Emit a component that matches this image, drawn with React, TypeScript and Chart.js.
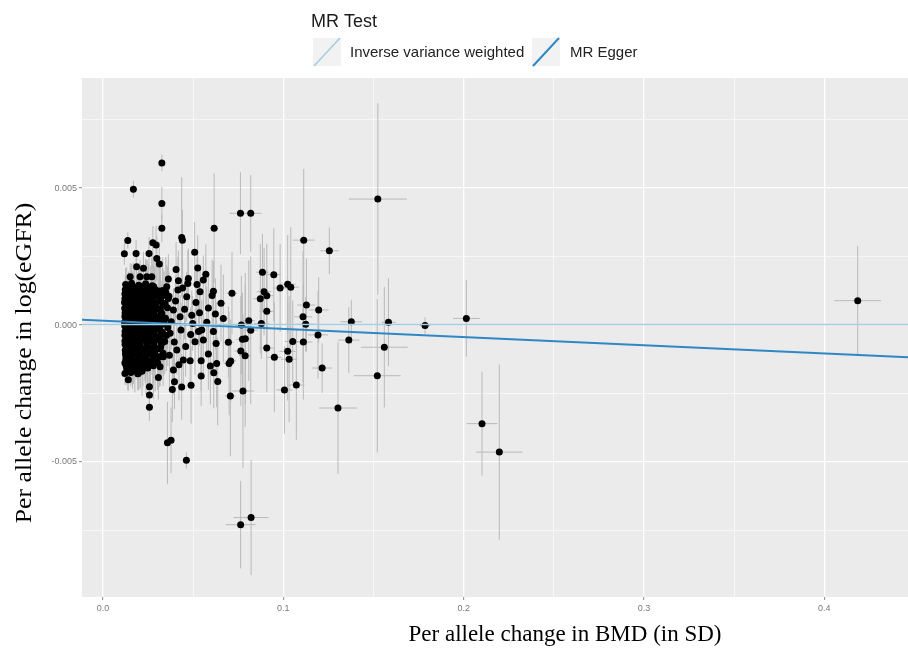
import React, { useEffect, useRef } from "react";
import { Chart, registerables } from "chart.js";
Chart.register(...registerables);

// ---- Dense cluster of SNPs (per allele effect on BMD, on log(eGFR), and their SEs)
const clusterBmd = [
  0.0125, 0.0158, 0.0197, 0.0236, 0.0272,
  0.0123, 0.0141, 0.0176, 0.0214, 0.0251, 0.0289, 0.0331,
  0.0121, 0.0153, 0.0188, 0.0225, 0.0262, 0.0305, 0.0348,
  0.0121, 0.0137, 0.0169, 0.0203, 0.0241, 0.0279, 0.0318, 0.0362,
  0.0119, 0.0149, 0.0181, 0.0216, 0.0254, 0.0293, 0.0339,
  0.0120, 0.0133, 0.0163, 0.0196, 0.0232, 0.0268, 0.0311, 0.0357,
  0.0122, 0.0146, 0.0178, 0.0211, 0.0247, 0.0284, 0.0326,
  0.0121, 0.0134, 0.0161, 0.0193, 0.0228, 0.0265, 0.0301, 0.0346,
  0.0119, 0.0151, 0.0184, 0.0219, 0.0257, 0.0296, 0.0338,
  0.0120, 0.0136, 0.0167, 0.0199, 0.0236, 0.0273, 0.0314, 0.0359,
  0.0122, 0.0148, 0.0179, 0.0213, 0.0249, 0.0287, 0.0329,
  0.0121, 0.0135, 0.0164, 0.0197, 0.0231, 0.0267, 0.0306, 0.0351,
  0.0121, 0.0152, 0.0186, 0.0222, 0.0259, 0.0298, 0.0342,
  0.0122, 0.0139, 0.0171, 0.0205, 0.0243, 0.0281, 0.0323,
  0.0123, 0.0156, 0.0191, 0.0227, 0.0266, 0.0309,
  0.0124, 0.0142, 0.0175, 0.0209, 0.0246, 0.0288, 0.0333,
  0.0126, 0.0161, 0.0195, 0.0233, 0.0276,
  0.0121, 0.0147, 0.0183, 0.0221, 0.0262, 0.0302,
  0.0131, 0.0168, 0.0207, 0.0248,
  0.0121, 0.0154, 0.0192,
];
const clusterEgfr = [
  0.00148, 0.00153, 0.00145, 0.00151, 0.00143,
  0.00129, 0.00135, 0.00131, 0.00127, 0.00134, 0.0013, 0.00126,
  0.00113, 0.00118, 0.00112, 0.00117, 0.00114, 0.0011, 0.00119,
  0.00096, 0.001, 0.00094, 0.00099, 0.00095, 0.00101, 0.00093, 0.00097,
  0.00082, 0.00077, 0.00081, 0.00078, 0.00083, 0.00079, 0.00076,
  0.00061, 0.00065, 0.0006, 0.00064, 0.00062, 0.00066, 0.00059, 0.00063,
  0.00044, 0.00048, 0.00043, 0.00047, 0.00045, 0.00049, 0.00042,
  0.00031, 0.00027, 0.0003, 0.00026, 0.00032, 0.00028, 0.0003, 0.00025,
  0.0001, 0.00014, 0.00011, 0.00013, 0.00009, 0.00015, 0.00011,
  -0.00003, -0.00007, -0.00004, -0.00008, -0.00002, -0.00006, -0.00005, -0.00009,
  -0.00024, -0.0002, -0.00025, -0.00021, -0.00023, -0.00019, -0.00026,
  -0.00037, -0.00041, -0.00038, -0.00042, -0.00036, -0.0004, -0.00043, -0.00038,
  -0.00058, -0.00054, -0.00059, -0.00055, -0.00057, -0.00053, -0.0006,
  -0.00071, -0.00075, -0.0007, -0.00076, -0.00072, -0.00074, -0.00069,
  -0.00092, -0.00088, -0.00093, -0.00089, -0.00091, -0.00087,
  -0.00105, -0.00109, -0.00104, -0.0011, -0.00106, -0.00108, -0.00103,
  -0.00126, -0.00122, -0.00127, -0.00123, -0.00125,
  -0.00139, -0.00143, -0.00138, -0.00144, -0.0014, -0.00137,
  -0.0016, -0.00156, -0.00161, -0.00157,
  -0.00177, -0.00173, -0.00178,
];
const clusterBmdSe = [
  0.0009, 0.0010, 0.0011, 0.0012, 0.0012,
  0.0009, 0.0010, 0.0010, 0.0011, 0.0012, 0.0012, 0.0013,
  0.0009, 0.0009, 0.0011, 0.0011, 0.0012, 0.0013, 0.0013,
  0.0008, 0.0010, 0.0010, 0.0011, 0.0011, 0.0012, 0.0013, 0.0014,
  0.0009, 0.0010, 0.0010, 0.0011, 0.0012, 0.0012, 0.0013,
  0.0008, 0.0009, 0.0010, 0.0011, 0.0011, 0.0012, 0.0013, 0.0014,
  0.0009, 0.0010, 0.0011, 0.0011, 0.0012, 0.0012, 0.0013,
  0.0008, 0.0009, 0.0010, 0.0010, 0.0011, 0.0012, 0.0012, 0.0013,
  0.0009, 0.0010, 0.0010, 0.0011, 0.0012, 0.0013, 0.0013,
  0.0008, 0.0009, 0.0010, 0.0011, 0.0011, 0.0012, 0.0013, 0.0014,
  0.0009, 0.0010, 0.0010, 0.0011, 0.0012, 0.0012, 0.0013,
  0.0008, 0.0009, 0.0010, 0.0011, 0.0011, 0.0012, 0.0012, 0.0013,
  0.0009, 0.0010, 0.0011, 0.0011, 0.0012, 0.0013, 0.0013,
  0.0008, 0.0009, 0.0010, 0.0011, 0.0012, 0.0012, 0.0013,
  0.0009, 0.0010, 0.0010, 0.0011, 0.0012, 0.0013,
  0.0008, 0.0009, 0.0010, 0.0011, 0.0012, 0.0012, 0.0013,
  0.0009, 0.0010, 0.0011, 0.0011, 0.0012,
  0.0009, 0.0009, 0.0010, 0.0011, 0.0012, 0.0013,
  0.0009, 0.0010, 0.0011, 0.0012,
  0.0009, 0.0010, 0.0011,
];
const clusterEgfrSe = [
  0.0006, 0.0007, 0.0008, 0.0009, 0.0010,
  0.0005, 0.0006, 0.0007, 0.0008, 0.0009, 0.0010, 0.0012,
  0.0005, 0.0006, 0.0008, 0.0007, 0.0010, 0.0011, 0.0013,
  0.0004, 0.0006, 0.0006, 0.0008, 0.0009, 0.0009, 0.0012, 0.0014,
  0.0005, 0.0005, 0.0007, 0.0008, 0.0008, 0.0010, 0.0012,
  0.0004, 0.0005, 0.0006, 0.0007, 0.0009, 0.0010, 0.0011, 0.0015,
  0.0005, 0.0006, 0.0007, 0.0007, 0.0009, 0.0011, 0.0012,
  0.0004, 0.0005, 0.0006, 0.0008, 0.0008, 0.0010, 0.0011, 0.0013,
  0.0005, 0.0006, 0.0007, 0.0008, 0.0009, 0.0010, 0.0012,
  0.0004, 0.0005, 0.0006, 0.0007, 0.0008, 0.0009, 0.0011, 0.0014,
  0.0005, 0.0006, 0.0007, 0.0008, 0.0009, 0.0011, 0.0012,
  0.0004, 0.0005, 0.0006, 0.0007, 0.0008, 0.0010, 0.0011, 0.0013,
  0.0005, 0.0006, 0.0007, 0.0008, 0.0009, 0.0010, 0.0012,
  0.0004, 0.0005, 0.0006, 0.0008, 0.0009, 0.0010, 0.0012,
  0.0005, 0.0006, 0.0007, 0.0008, 0.0009, 0.0011,
  0.0004, 0.0005, 0.0006, 0.0007, 0.0009, 0.0010, 0.0012,
  0.0005, 0.0006, 0.0007, 0.0008, 0.0010,
  0.0004, 0.0005, 0.0006, 0.0008, 0.0009, 0.0010,
  0.0005, 0.0006, 0.0007, 0.0008,
  0.0004, 0.0005, 0.0006,
];

// ---- More SNPs inside the dense cluster
const coreBmd = [
  0.0131, 0.0167, 0.0206, 0.0244, 0.0281,
  0.0128, 0.0163, 0.0199, 0.0238, 0.0276, 0.0312,
  0.0134, 0.0171, 0.0209, 0.0247, 0.0286, 0.0329,
  0.0129, 0.0165, 0.0201, 0.0239, 0.0276, 0.0315,
  0.0135, 0.0172, 0.0208, 0.0245, 0.0288, 0.0332,
  0.0128, 0.0162, 0.0197, 0.0236, 0.0274, 0.0318,
  0.0132, 0.0169, 0.0204, 0.0242, 0.0281, 0.0323,
  0.0129, 0.0166, 0.0202, 0.0239, 0.0278, 0.0319,
  0.0133, 0.0168, 0.0207, 0.0246, 0.0285, 0.0327,
  0.0128, 0.0163, 0.0197, 0.0233, 0.0271, 0.0311,
  0.0131, 0.0167, 0.0204, 0.0242, 0.0282, 0.0324,
  0.0128, 0.0162, 0.0198, 0.0235, 0.0274, 0.0317,
  0.0133, 0.0168, 0.0205, 0.0243, 0.0283, 0.0327,
  0.0129, 0.0164, 0.0201, 0.0239, 0.0279, 0.0319,
  0.0131, 0.0167, 0.0206, 0.0244, 0.0284,
  0.0127, 0.0161, 0.0198, 0.0236, 0.0276, 0.0314,
  0.0133, 0.0169, 0.0207, 0.0247, 0.0289,
  0.0128, 0.0163, 0.0199, 0.0238, 0.0279,
  0.0137, 0.0176, 0.0216,
];
const coreEgfr = [
  0.00141, 0.00139, 0.00142, 0.00138, 0.0014,
  0.00122, 0.00124, 0.00121, 0.00125, 0.00122, 0.00124,
  0.00105, 0.00107, 0.00104, 0.00108, 0.00105, 0.00107,
  0.0009, 0.00088, 0.00091, 0.00087, 0.0009, 0.00088,
  0.00071, 0.00073, 0.0007, 0.00074, 0.00071, 0.00073,
  0.00054, 0.00056, 0.00053, 0.00057, 0.00054, 0.00056,
  0.00037, 0.00039, 0.00036, 0.0004, 0.00037, 0.00039,
  0.0002, 0.00022, 0.00019, 0.00023, 0.0002, 0.00022,
  0.00005, 0.00003, 0.00006, 0.00002, 0.00005, 0.00003,
  -0.00012, -0.00014, -0.00011, -0.00015, -0.00012, -0.00014,
  -0.00031, -0.00029, -0.00032, -0.00028, -0.00031, -0.00029,
  -0.00046, -0.00048, -0.00045, -0.00049, -0.00046, -0.00048,
  -0.00065, -0.00063, -0.00066, -0.00062, -0.00065, -0.00063,
  -0.0008, -0.00082, -0.00079, -0.00083, -0.0008, -0.00082,
  -0.00099, -0.00097, -0.001, -0.00096, -0.00099,
  -0.00114, -0.00116, -0.00113, -0.00117, -0.00114, -0.00116,
  -0.00133, -0.00131, -0.00134, -0.0013, -0.00133,
  -0.00149, -0.00151, -0.00148, -0.00152, -0.00149,
  -0.00168, -0.00166, -0.00169,
];
const coreBmdSe = [
  0.0009, 0.0010, 0.0011, 0.0011, 0.0012,
  0.0009, 0.0010, 0.0010, 0.0011, 0.0012, 0.0013,
  0.0009, 0.0010, 0.0011, 0.0011, 0.0012, 0.0013,
  0.0009, 0.0010, 0.0010, 0.0011, 0.0012, 0.0012,
  0.0009, 0.0010, 0.0011, 0.0011, 0.0012, 0.0013,
  0.0009, 0.0010, 0.0010, 0.0011, 0.0012, 0.0013,
  0.0009, 0.0010, 0.0011, 0.0011, 0.0012, 0.0013,
  0.0009, 0.0010, 0.0010, 0.0011, 0.0012, 0.0012,
  0.0009, 0.0010, 0.0011, 0.0011, 0.0012, 0.0013,
  0.0009, 0.0010, 0.0010, 0.0011, 0.0012, 0.0013,
  0.0009, 0.0010, 0.0011, 0.0011, 0.0012, 0.0013,
  0.0009, 0.0010, 0.0010, 0.0011, 0.0012, 0.0012,
  0.0009, 0.0010, 0.0011, 0.0011, 0.0012, 0.0013,
  0.0009, 0.0010, 0.0010, 0.0011, 0.0012, 0.0013,
  0.0009, 0.0010, 0.0011, 0.0011, 0.0012,
  0.0009, 0.0010, 0.0010, 0.0011, 0.0012, 0.0013,
  0.0009, 0.0010, 0.0011, 0.0011, 0.0012,
  0.0009, 0.0010, 0.0010, 0.0011, 0.0012,
  0.0009, 0.0010, 0.0011,
];
const coreEgfrSe = [
  0.0007, 0.0009, 0.0008, 0.0010, 0.0011,
  0.0006, 0.0007, 0.0009, 0.0008, 0.0010, 0.0012,
  0.0006, 0.0008, 0.0007, 0.0009, 0.0011, 0.0012,
  0.0005, 0.0007, 0.0008, 0.0009, 0.0010, 0.0011,
  0.0006, 0.0006, 0.0008, 0.0009, 0.0011, 0.0013,
  0.0005, 0.0007, 0.0007, 0.0009, 0.0010, 0.0012,
  0.0006, 0.0006, 0.0008, 0.0008, 0.0010, 0.0011,
  0.0005, 0.0007, 0.0007, 0.0009, 0.0009, 0.0012,
  0.0006, 0.0006, 0.0008, 0.0008, 0.0010, 0.0011,
  0.0005, 0.0007, 0.0007, 0.0009, 0.0009, 0.0012,
  0.0006, 0.0006, 0.0008, 0.0008, 0.0010, 0.0011,
  0.0005, 0.0007, 0.0007, 0.0009, 0.0009, 0.0012,
  0.0006, 0.0006, 0.0008, 0.0008, 0.0010, 0.0011,
  0.0005, 0.0007, 0.0007, 0.0009, 0.0009, 0.0012,
  0.0006, 0.0007, 0.0008, 0.0009, 0.0010,
  0.0006, 0.0007, 0.0008, 0.0008, 0.0010, 0.0011,
  0.0007, 0.0008, 0.0009, 0.0010, 0.0011,
  0.0007, 0.0008, 0.0009, 0.0010, 0.0012,
  0.0007, 0.0008, 0.0009,
];

// ---- Remaining SNPs
const snpBmd = [
  0.0326, 0.0168, 0.0326, 0.0326, 0.0137, 0.0118, 0.0183, 0.0255, 0.0276, 0.0294,
  0.0298, 0.0312, 0.0436, 0.0440, 0.0508, 0.0616, 0.0762, 0.0819, 0.1113, 0.1255,
  0.0525, 0.0884, 0.0947, 0.0982, 0.1024, 0.1041, 0.0715, 0.0872, 0.0893, 0.0908,
  0.1128, 0.1196, 0.1109, 0.1124, 0.0908, 0.0808, 0.0878, 0.0819, 0.0767, 0.1377,
  0.1363, 0.1192, 0.1052, 0.1111, 0.0773, 0.0789, 0.0908, 0.0764, 0.0788, 0.1024,
  0.1032, 0.0950, 0.0695, 0.0699, 0.0708, 0.1215, 0.1072, 0.1006, 0.0706, 0.0776,
  0.1303, 0.0614, 0.0636, 0.0544, 0.0488, 0.0436, 0.0396, 0.0384, 0.0307, 0.0257,
  0.0257, 0.0257, 0.0357, 0.0377, 0.0462, 0.0140, 0.0470, 0.0521, 0.0570, 0.0556,
  0.0605, 0.0612, 0.0654, 0.0538, 0.0584, 0.0623, 0.0667, 0.0547, 0.0529, 0.0510,
  0.0556, 0.0612, 0.0627, 0.0584, 0.0544, 0.0483, 0.0630, 0.0492, 0.0497, 0.0464,
  0.0427, 0.0390, 0.0405, 0.0473, 0.0353, 0.0344, 0.0372, 0.0409, 0.0445, 0.0334,
  0.0316, 0.0390, 0.0233, 0.0196, 0.0159, 0.0205, 0.0242, 0.0186, 0.0224, 0.0270,
  0.0150, 0.1524, 0.1583, 0.1560, 0.1521, 0.1786, 0.2015, 0.2102, 0.2198, 0.4186,
  0.0763, 0.0821,
  0.0365, 0.0378, 0.0395, 0.0415, 0.0432, 0.0452, 0.0368, 0.0402, 0.0421, 0.0458,
  0.0515, 0.0486, 0.0362, 0.0418, 0.0575, 0.0595, 0.0535, 0.0441,
];
const snpEgfr = [
  0.00592, 0.00496, 0.00444, 0.00353, 0.00309, 0.0026, 0.00261, 0.00261, 0.003, 0.00292,
  0.00243, 0.00223, 0.0032, 0.0031, 0.00266, 0.00353, 0.00408, 0.00408, 0.0031, 0.00271,
  0.00208, 0.00193, 0.00184, 0.00135, 0.00149, 0.00138, 0.00116, 0.00096, 0.00122, 0.00107,
  0.00073, 0.00055, 0.0003, 0.00003, 0.0005, 0.00016, 0.00006, -0.00019, 0.0, 0.00012,
  -0.00055, -0.00036, -0.0006, -0.00062, -0.00052, -0.0005, -0.00084, -0.00095, -0.00112, -0.00096,
  -0.00125, -0.00118, -0.00063, -0.0014, -0.00131, -0.00157, -0.00219, -0.00237, -0.00259, -0.00241,
  -0.00303, -0.00174, -0.00206, -0.00186, -0.0022, -0.00226, -0.00207, -0.00235, -0.00192, -0.00225,
  -0.00255, -0.003, -0.0043, -0.00421, -0.00494, -0.002, 0.00152, 0.00148, 0.00185, 0.00164,
  0.00108, 0.00123, 0.0008, 0.00122, 0.00062, 0.0004, 0.00024, -0.00018, -0.00024, -0.00061,
  -0.00055, -0.00024, -0.00067, -0.00106, -0.0013, -0.0013, -0.0014, 0.00036, 0.00006, 0.00103,
  0.0003, 0.00055, 0.00203, 0.0017, 0.0014, 0.00079, -0.0003, -0.00091, -0.00128, -0.00116,
  -0.00152, -0.00164, -0.00152, -0.00176, -0.00164, 0.00176, 0.00176, 0.00213, 0.00207, 0.00176,
  0.00176, 0.0046, 0.0001, -0.00081, -0.00185, -0.00002, 0.00024, -0.0036, -0.00464, 0.00089,
  -0.00729, -0.00703,
  0.00105, 0.00012, -0.00062, 0.00128, -0.00018, 0.00058, -0.0011, 0.00088, -0.00145, -0.00078,
  0.00082, -0.00035, 0.00168, 0.00162, 0.0001, -0.0015, 0.00045, 0.00135,
];
const snpBmdSe = [
  0.0012, 0.0011, 0.0012, 0.0012, 0.0010, 0.0010, 0.0012, 0.0013, 0.0013, 0.0013,
  0.0013, 0.0014, 0.0020, 0.0018, 0.0016, 0.0022, 0.0060, 0.0060, 0.0060, 0.0050,
  0.0018, 0.0035, 0.0040, 0.0040, 0.0045, 0.0045, 0.0030, 0.0040, 0.0040, 0.0040,
  0.0050, 0.0055, 0.0050, 0.0050, 0.0040, 0.0035, 0.0040, 0.0040, 0.0035, 0.0060,
  0.0060, 0.0055, 0.0045, 0.0050, 0.0035, 0.0035, 0.0040, 0.0035, 0.0035, 0.0045,
  0.0045, 0.0040, 0.0030, 0.0030, 0.0030, 0.0055, 0.0045, 0.0045, 0.0030, 0.0060,
  0.0106, 0.0025, 0.0025, 0.0020, 0.0020, 0.0018, 0.0016, 0.0016, 0.0013, 0.0012,
  0.0012, 0.0012, 0.0015, 0.0016, 0.0018, 0.0010, 0.0018, 0.0018, 0.0020, 0.0020,
  0.0022, 0.0022, 0.0025, 0.0020, 0.0020, 0.0022, 0.0025, 0.0020, 0.0020, 0.0018,
  0.0020, 0.0022, 0.0022, 0.0020, 0.0020, 0.0018, 0.0022, 0.0018, 0.0018, 0.0018,
  0.0016, 0.0016, 0.0016, 0.0018, 0.0015, 0.0015, 0.0015, 0.0016, 0.0017, 0.0014,
  0.0014, 0.0016, 0.0012, 0.0011, 0.0011, 0.0011, 0.0012, 0.0011, 0.0012, 0.0012,
  0.0010, 0.0161, 0.0040, 0.0130, 0.0130, 0.0030, 0.0074, 0.0086, 0.0129, 0.0130,
  0.0083, 0.0097,
  0.0015, 0.0015, 0.0016, 0.0017, 0.0017, 0.0018, 0.0015, 0.0016, 0.0017, 0.0018,
  0.0019, 0.0018, 0.0015, 0.0017, 0.0020, 0.0021, 0.0019, 0.0017,
];
const snpEgfrSe = [
  0.0003, 0.0003, 0.0006, 0.0005, 0.0003, 0.0004, 0.0005, 0.0006, 0.0006, 0.0007,
  0.0008, 0.0008, 0.0022, 0.0011, 0.0011, 0.0020, 0.0015, 0.0014, 0.0026, 0.00085,
  0.0012, 0.0014, 0.0017, 0.0016, 0.0018, 0.0022, 0.0015, 0.0020, 0.0016, 0.0019,
  0.0017, 0.0012, 0.0024, 0.0010, 0.0015, 0.0022, 0.0013, 0.0027, 0.0018, 0.0008,
  0.0012, 0.0016, 0.0015, 0.0021, 0.0017, 0.0024, 0.0016, 0.0020, 0.0026, 0.0018,
  0.0023, 0.0020, 0.0013, 0.0019, 0.0015, 0.0009, 0.0020, 0.0016, 0.0022, 0.0028,
  0.0024, 0.0013, 0.0016, 0.0011, 0.0014, 0.0012, 0.0010, 0.0012, 0.0008, 0.0007,
  0.0006, 0.0005, 0.0015, 0.0012, 0.0003, 0.0004, 0.0012, 0.0010, 0.0011, 0.0009,
  0.0013, 0.0011, 0.0014, 0.0010, 0.0012, 0.0013, 0.0016, 0.0011, 0.0010, 0.0012,
  0.0014, 0.0012, 0.0015, 0.0013, 0.0011, 0.0010, 0.0016, 0.0009, 0.0010, 0.0009,
  0.0008, 0.0008, 0.0010, 0.0011, 0.0008, 0.0007, 0.0008, 0.0009, 0.0010, 0.0007,
  0.0007, 0.0009, 0.0006, 0.0006, 0.0005, 0.0006, 0.0006, 0.0006, 0.0006, 0.0007,
  0.0005, 0.0035, 0.0016, 0.0022, 0.0028, 0.0003, 0.0014, 0.0019, 0.0032, 0.0020,
  0.0016, 0.0021,
  0.0009, 0.0010, 0.0011, 0.0012, 0.0010, 0.0011, 0.0012, 0.0009, 0.0013, 0.0011,
  0.0012, 0.0010, 0.0009, 0.0011, 0.0013, 0.0014, 0.0012, 0.0010,
];

// ---- MR fits (intercept, slope)
const ivwIntercept = 0.00002;
const ivwSlope = 0.0;
const eggerIntercept = 0.00016;
const eggerSlope = -0.003;

// ---- Axes
const xTickValues = [0, 0.05, 0.1, 0.15, 0.2, 0.25, 0.3, 0.35, 0.4];
const xTickLabels = ["0.0", "", "0.1", "", "0.2", "", "0.3", "", "0.4"];
const yTickValues = [-0.0075, -0.005, -0.0025, 0, 0.0025, 0.005, 0.0075];
const yTickLabels = ["", "-0.005", "", "0.000", "", "0.005", ""];
const X_MIN = -0.0117;
const X_MAX = 0.4465;
const Y_MIN = -0.00993;
const Y_MAX = 0.00902;

const xTitle = "Per allele change in BMD (in SD)";
const yTitle = "Per allele change in log(eGFR)";
const legendTitle = "MR Test";
const methodLabels = ["Inverse variance weighted", "MR Egger"];
const methodColors = ["#a6cee3", "#2f88c4"];

export default function App() {
  const ref = useRef<HTMLCanvasElement | null>(null);

  useEffect(() => {
    const canvas = ref.current;
    if (!canvas) return;
    const bmd = [...clusterBmd, ...coreBmd, ...snpBmd];
    const egfr = [...clusterEgfr, ...coreEgfr, ...snpEgfr];
    const bmdSe = [...clusterBmdSe, ...coreBmdSe, ...snpBmdSe];
    const egfrSe = [...clusterEgfrSe, ...coreEgfrSe, ...snpEgfrSe];
    const points = bmd.map((x, i) => ({ x, y: egfr[i] }));
    const abline = (a: number, b: number) => [
      { x: X_MIN, y: a + b * X_MIN },
      { x: X_MAX, y: a + b * X_MAX },
    ];

    const panelBg = {
      id: "panelBg",
      beforeDraw(chart: any) {
        const { ctx, chartArea: a } = chart;
        ctx.save();
        ctx.fillStyle = "#ebebeb";
        ctx.fillRect(a.left, a.top, a.right - a.left, a.bottom - a.top);
        ctx.restore();
      },
    };

    const errorBars = {
      id: "errorBars",
      beforeDatasetsDraw(chart: any) {
        const { ctx, chartArea: a, scales } = chart;
        const xs = scales.x;
        const ys = scales.y;
        ctx.save();
        ctx.beginPath();
        ctx.rect(a.left, a.top, a.right - a.left, a.bottom - a.top);
        ctx.clip();
        ctx.strokeStyle = "#b9b9b9";
        ctx.lineWidth = 1;
        ctx.beginPath();
        for (let i = 0; i < bmd.length; i++) {
          const px = xs.getPixelForValue(bmd[i]);
          const py = ys.getPixelForValue(egfr[i]);
          ctx.moveTo(px, ys.getPixelForValue(egfr[i] - egfrSe[i]));
          ctx.lineTo(px, ys.getPixelForValue(egfr[i] + egfrSe[i]));
          ctx.moveTo(xs.getPixelForValue(bmd[i] - bmdSe[i]), py);
          ctx.lineTo(xs.getPixelForValue(bmd[i] + bmdSe[i]), py);
        }
        ctx.stroke();
        ctx.restore();
      },
    };

    const annotations = {
      id: "annotations",
      afterDraw(chart: any) {
        const { ctx } = chart;
        ctx.save();
        // legend
        ctx.fillStyle = "#1a1a1a";
        ctx.textBaseline = "middle";
        ctx.textAlign = "left";
        ctx.font = '18px "Liberation Sans", Arial, sans-serif';
        ctx.fillText(legendTitle, 311, 22);
        const keyX = [313, 532];
        const labelX = [350, 570];
        ctx.font = '15px "Liberation Sans", Arial, sans-serif';
        for (let k = 0; k < 2; k++) {
          ctx.fillStyle = "#f2f2f2";
          ctx.fillRect(keyX[k], 38, 28, 28);
          ctx.strokeStyle = methodColors[k];
          ctx.lineWidth = k === 0 ? 1.6 : 2;
          ctx.beginPath();
          ctx.moveTo(keyX[k] + 1, 66);
          ctx.lineTo(keyX[k] + 27, 38);
          ctx.stroke();
          ctx.fillStyle = "#222";
          ctx.fillText(methodLabels[k], labelX[k], 53);
        }
        // axis titles
        ctx.fillStyle = "#000";
        ctx.font = '23px "Liberation Serif", "Times New Roman", serif';
        ctx.textAlign = "center";
        ctx.fillText(xTitle, 565, 635);
        ctx.translate(25, 363);
        ctx.rotate(-Math.PI / 2);
        ctx.scale(1.12, 1);
        ctx.fillText(yTitle, 0, 0);
        ctx.restore();
      },
    };

    const chart = new Chart(canvas, {
      type: "scatter",
      data: {
        datasets: [
          {
            type: "line",
            label: methodLabels[0],
            data: abline(ivwIntercept, ivwSlope),
            borderColor: methodColors[0],
            borderWidth: 1.6,
            pointRadius: 0,
            order: 0,
          } as any,
          {
            type: "line",
            label: methodLabels[1],
            data: abline(eggerIntercept, eggerSlope),
            borderColor: methodColors[1],
            borderWidth: 2,
            pointRadius: 0,
            order: 0,
          } as any,
          {
            label: "SNPs",
            data: points,
            pointRadius: 3.5,
            pointBorderWidth: 0,
            pointBackgroundColor: "#000",
            pointBorderColor: "#000",
            order: 2,
          } as any,
        ],
      },
      options: {
        responsive: false,
        animation: false,
        events: [],
        layout: { autoPadding: false, padding: { top: 78, right: 0, bottom: 0, left: 0 } },
        plugins: { legend: { display: false }, tooltip: { enabled: false } },
        scales: {
          x: {
            type: "linear",
            min: X_MIN,
            max: X_MAX,
            afterBuildTicks: (s: any) => {
              s.ticks = xTickValues.map((v) => ({ value: v }));
            },
            afterFit: (s: any) => {
              s.height = 54;
              s.paddingLeft = 0;
              s.paddingRight = 0;
            },
            ticks: {
              autoSkip: false,
              maxRotation: 0,
              padding: 3,
              color: "#7a7a7a",
              font: { size: 9, family: '"Liberation Sans", Arial, sans-serif' },
              callback: (_v: any, i: number) => xTickLabels[i],
            },
            grid: {
              color: "#ffffff",
              lineWidth: (c: any) => (xTickLabels[c.index] ? 1.3 : 0.6),
              tickLength: 3,
              tickColor: (c: any) => (xTickLabels[c.index] ? "#8a8a8a" : "rgba(0,0,0,0)"),
              tickWidth: 1,
            },
            border: { display: false },
          },
          y: {
            type: "linear",
            min: Y_MIN,
            max: Y_MAX,
            afterBuildTicks: (s: any) => {
              s.ticks = yTickValues.map((v) => ({ value: v }));
            },
            afterFit: (s: any) => {
              s.width = 82;
            },
            ticks: {
              autoSkip: false,
              padding: 2,
              color: "#7a7a7a",
              font: { size: 9, family: '"Liberation Sans", Arial, sans-serif' },
              callback: (_v: any, i: number) => yTickLabels[i],
            },
            grid: {
              color: "#ffffff",
              lineWidth: (c: any) => (yTickLabels[c.index] ? 1.3 : 0.6),
              tickLength: 3,
              tickColor: (c: any) => (yTickLabels[c.index] ? "#8a8a8a" : "rgba(0,0,0,0)"),
              tickWidth: 1,
            },
            border: { display: false },
          },
        },
      },
      plugins: [panelBg, errorBars, annotations],
    });
    return () => chart.destroy();
  }, []);

  return (
    <div style={{ position: "absolute", left: 0, top: 0, width: 908, height: 651, background: "#fff" }}>
      <canvas ref={ref} width={908} height={651} style={{ display: "block" }} />
    </div>
  );
}
